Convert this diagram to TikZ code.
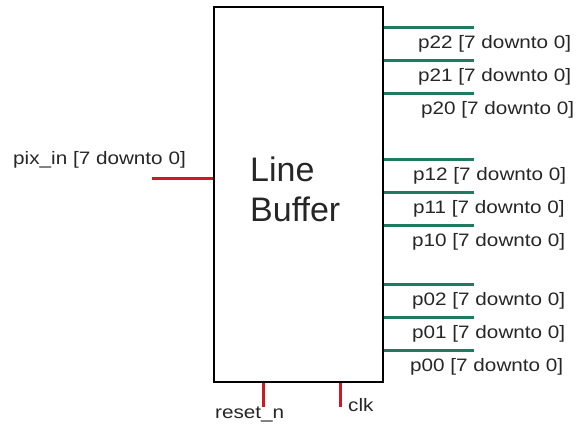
\documentclass[tikz,border=0pt]{standalone}
\usepackage{fontspec}
\setmainfont{Liberation Sans}
\newfontfamily\portfont[FakeStretch=1.15]{Liberation Sans}
\definecolor{busgreen}{HTML}{1F7A60}
\definecolor{sigred}{HTML}{CC1A24}
\begin{document}
\begin{tikzpicture}[x=1pt,y=-1pt,
  blockbox/.style={draw=black, line width=2.8pt, minimum width=169pt, minimum height=375pt, inner sep=0pt},
  blocktitle/.style={anchor=base west, inner sep=0pt, align=left, text=black!85,
    font=\fontsize{34}{40}\selectfont},
  outbus/.style={draw=busgreen, line width=3pt},
  insig/.style={draw=sigred, line width=3pt},
  portlabel/.style={anchor=base west, inner sep=0pt, font=\portfont\fontsize{18}{20}\selectfont, text=black!85}
]
\useasboundingbox (0,0) rectangle (576,430);

% the block and its title (base anchor sits on the last line)
\node[blockbox] (lb) at (298.5,194.5) {};
\node[blocktitle] (title) at (250,222) {Line\\Buffer};

% input port
\coordinate (pin) at (152,179);
\draw[insig] (pin) -- (pin -| lb.west);
\node[portlabel] (pinlbl) at (13,165) {pix\_in [7 downto 0]};

% control inputs at the bottom
\coordinate (rst) at (263,407);
\coordinate (clk) at (340,407);
\draw[insig] (rst |- lb.south) -- (rst);
\draw[insig] (clk |- lb.south) -- (clk);
\node[portlabel] (rstlbl) at (215,419) {reset\_n};
\node[portlabel] (clklbl) at (348,411) {clk};

% output buses
\foreach \nm/\ly/\lx/\by in {22/28/418/49, 21/61/418/82, 20/94/421/115,
                             12/160/413/181, 11/193/413/214, 10/226/412/247,
                             02/285/412/306, 01/318/412/339, 00/351/410/372}{
  \coordinate (o\nm) at (474,\ly);
  \draw[outbus] (o\nm -| lb.east) -- (o\nm);
  \node[portlabel] (l\nm) at (\lx,\by) {p\nm\ [7 downto 0]};
}
\end{tikzpicture}
\end{document}
